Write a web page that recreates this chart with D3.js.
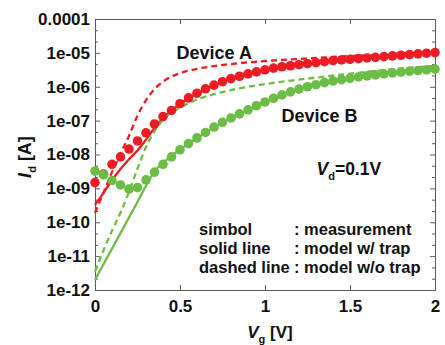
<!DOCTYPE html>
<html>
<head>
<meta charset="utf-8">
<script src="https://d3js.org/d3.v7.min.js"></script>
<style>
  html, body { margin: 0; padding: 0; background: #fff; }
  svg { display: block; font-family: "Liberation Sans", Arial, sans-serif; font-weight: bold; }
</style>
</head>
<body>
<svg id="chart" width="445" height="345"></svg>
<script>
// ---- data ----
const vgMeas = [0,0.05,0.1,0.15,0.2,0.25,0.3,0.35,0.4,0.45,0.5,0.55,0.6,0.65,0.7,0.75,0.8,0.85,0.9,0.95,
                1.0,1.05,1.1,1.15,1.2,1.25,1.3,1.35,1.4,1.45,1.5,1.55,1.6,1.65,1.7,1.75,1.8,1.85,1.9,1.95,2.0];
const measA = [1.48e-9,2.63e-9,5.13e-9,8.51e-9,1.45e-8,2.51e-8,4.37e-8,7.94e-8,1.32e-7,2.0e-7,
               3.16e-7,4.68e-7,6.46e-7,8.71e-7,1.12e-6,1.41e-6,1.74e-6,2.04e-6,2.40e-6,2.75e-6,
               3.16e-6,3.55e-6,3.89e-6,4.17e-6,4.47e-6,4.79e-6,5.13e-6,5.50e-6,5.89e-6,6.17e-6,
               6.46e-6,6.76e-6,7.08e-6,7.41e-6,7.76e-6,8.13e-6,8.51e-6,8.91e-6,9.33e-6,9.77e-6,1.02e-5];
const measB = [3.24e-9,2.51e-9,1.70e-9,1.26e-9,9.55e-10,1.05e-9,1.78e-9,3.02e-9,5.13e-9,8.51e-9,
               1.38e-8,2.09e-8,3.09e-8,4.47e-8,6.46e-8,8.91e-8,1.20e-7,1.58e-7,2.09e-7,2.75e-7,
               3.55e-7,4.57e-7,5.75e-7,7.08e-7,8.51e-7,1.0e-6,1.15e-6,1.32e-6,1.48e-6,1.62e-6,
               1.78e-6,1.95e-6,2.09e-6,2.24e-6,2.40e-6,2.57e-6,2.69e-6,2.88e-6,3.02e-6,3.16e-6,3.31e-6];

const vgModel = [0,0.05,0.1,0.15,0.2,0.25,0.3,0.35,0.4,0.45,0.5,0.6,0.7,0.8,0.9,1.0,1.2,1.4,1.6,1.8,2.0];
const trapA   = [3.24e-10,7.41e-10,1.74e-9,3.72e-9,7.24e-9,1.32e-8,2.75e-8,6.03e-8,1.17e-7,1.95e-7,
                 3.09e-7,6.31e-7,1.10e-6,1.70e-6,2.34e-6,3.09e-6,4.37e-6,5.75e-6,7.08e-6,8.51e-6,1.02e-5];
const noTrapA = [1.91e-10,7.41e-10,3.02e-9,1.05e-8,3.55e-8,1.41e-7,3.98e-7,8.51e-7,1.41e-6,2.0e-6,
                 2.51e-6,3.39e-6,4.07e-6,4.68e-6,5.25e-6,5.75e-6,6.61e-6,7.59e-6,8.51e-6,9.55e-6,1.07e-5];
const trapB   = [2.0e-12,5.75e-12,1.66e-11,4.79e-11,1.38e-10,3.98e-10,1.20e-9,3.16e-9,5.62e-9,9.12e-9,
                 1.41e-8,3.02e-8,6.31e-8,1.17e-7,2.04e-7,3.47e-7,8.32e-7,1.45e-6,2.04e-6,2.63e-6,3.24e-6];
const noTrapB = [3.55e-12,1.48e-11,5.62e-11,1.91e-10,7.94e-10,3.80e-9,1.66e-8,4.79e-8,1.05e-7,1.74e-7,
                 2.40e-7,4.17e-7,6.03e-7,7.94e-7,1.0e-6,1.20e-6,1.62e-6,2.14e-6,2.75e-6,3.47e-6,4.17e-6];

const xTicks = [0, 0.5, 1, 1.5, 2];
const xTickLabels = ["0", "0.5", "1", "1.5", "2"];
const yTicks = [1e-4,1e-5,1e-6,1e-7,1e-8,1e-9,1e-10,1e-11,1e-12];
const yTickLabels = ["0.0001","1e-05","1e-06","1e-07","1e-08","1e-09","1e-10","1e-11","1e-12"];
const legendLabels = ["simbol", "solid line", "dashed line"];
const legendTexts = [": measurement", ": model w/ trap", ": model w/o trap"];

const RED = "#ED1C24", GREEN = "#6CBD45", AXIS = "#5a5a5a";

// ---- layout ----
const L = 95, R = 435, T = 19, B = 290;
const svg = d3.select("#chart");
const x = d3.scaleLinear().domain([0, 2]).range([L, R]);
const y = d3.scaleLog().domain([1e-12, 1e-4]).range([B, T]);

// minor ticks at 1/3 decade spacing
const yMinor = [];
yTicks.slice(1).forEach(d => { yMinor.push(d * Math.pow(10, 1/3), d * Math.pow(10, 2/3)); });

function styleAxis(g) {
  g.select(".domain").attr("stroke", AXIS).attr("stroke-width", 1);
  g.selectAll(".tick line").attr("stroke", AXIS).attr("stroke-width", 1);
  g.selectAll(".tick text").attr("fill", "#111").style("font-family", '"Liberation Sans", Arial, sans-serif')
   .style("font-weight", "bold").style("font-size", "17px");
}

// bottom
svg.append("g").attr("transform", `translate(0,${B})`)
  .call(d3.axisBottom(x).tickValues(xTicks).tickFormat((d,i) => xTickLabels[i]).tickSizeInner(-5).tickSizeOuter(0).tickPadding(10))
  .call(styleAxis);
// top
svg.append("g").attr("transform", `translate(0,${T})`)
  .call(d3.axisTop(x).tickValues(xTicks).tickFormat("").tickSizeInner(-5).tickSizeOuter(0))
  .call(styleAxis);
// left major
svg.append("g").attr("transform", `translate(${L},0)`)
  .call(d3.axisLeft(y).tickValues(yTicks).tickFormat((d,i) => yTickLabels[i]).tickSizeInner(-5).tickSizeOuter(0).tickPadding(5))
  .call(styleAxis);
svg.append("g").attr("transform", `translate(${L},0)`)
  .call(d3.axisLeft(y).tickValues(yMinor).tickFormat("").tickSizeInner(-3).tickSizeOuter(0))
  .call(styleAxis);
// right
svg.append("g").attr("transform", `translate(${R},0)`)
  .call(d3.axisRight(y).tickValues(yTicks).tickFormat("").tickSizeInner(-5).tickSizeOuter(0))
  .call(styleAxis);
svg.append("g").attr("transform", `translate(${R},0)`)
  .call(d3.axisRight(y).tickValues(yMinor).tickFormat("").tickSizeInner(-3).tickSizeOuter(0))
  .call(styleAxis);

// ---- lines ----
const line = d3.line().x(d => x(d[0])).y(d => y(d[1])).curve(d3.curveMonotoneX);
function drawLine(vals, color, dashed) {
  svg.append("path").datum(vgModel.map((v, i) => [v, vals[i]]))
    .attr("d", line).attr("fill", "none").attr("stroke", color).attr("stroke-width", 2.3)
    .attr("stroke-dasharray", dashed ? "6,4" : null);
}
drawLine(noTrapA, RED, true);
drawLine(trapA, RED, false);
drawLine(noTrapB, GREEN, true);
drawLine(trapB, GREEN, false);

// ---- points ----
function drawDots(vals, color) {
  svg.append("g").selectAll("circle").data(vgMeas.map((v, i) => [v, vals[i]]))
    .join("circle").attr("cx", d => x(d[0])).attr("cy", d => y(d[1])).attr("r", 4.8).attr("fill", color);
}
drawDots(measA, RED);
drawDots(measB, GREEN);

// ---- texts ----
svg.append("text").attr("x", 176.5).attr("y", 58.5).style("font-size", "18px").attr("fill", "#111").text("Device A");
svg.append("text").attr("x", 281.5).attr("y", 122).style("font-size", "18px").attr("fill", "#111").text("Device B");

const vd = svg.append("text").attr("x", 316.5).attr("y", 175).style("font-size", "17.5px").attr("fill", "#111");
vd.append("tspan").style("font-style", "italic").text("V");
vd.append("tspan").style("font-size", "11px").attr("dy", 5).text("d");
vd.append("tspan").attr("dy", -5).text("=0.1V");

const legY = [235, 253.5, 272.5];
legendLabels.forEach((t, i) => {
  svg.append("text").attr("x", 199).attr("y", legY[i]).style("font-size", "16.5px").attr("fill", "#111").text(t);
  svg.append("text").attr("x", 294).attr("y", legY[i]).style("font-size", "16.5px").attr("fill", "#111").text(legendTexts[i]);
});

// axis titles
const xt = svg.append("text").attr("x", 270).attr("y", 338).attr("text-anchor", "middle").style("font-size", "17px").attr("fill", "#111");
xt.append("tspan").style("font-style", "italic").text("V");
xt.append("tspan").style("font-size", "11px").attr("dy", 5).text("g");
xt.append("tspan").attr("dy", -5).text(" [V]");

const yt = svg.append("text").attr("transform", "translate(31,157) rotate(-90)").attr("text-anchor", "middle").style("font-size", "18px").attr("fill", "#111");
yt.append("tspan").style("font-style", "italic").text("I");
yt.append("tspan").style("font-size", "11px").attr("dy", 5).text("d");
yt.append("tspan").attr("dy", -5).text(" [A]");
</script>
</body>
</html>
